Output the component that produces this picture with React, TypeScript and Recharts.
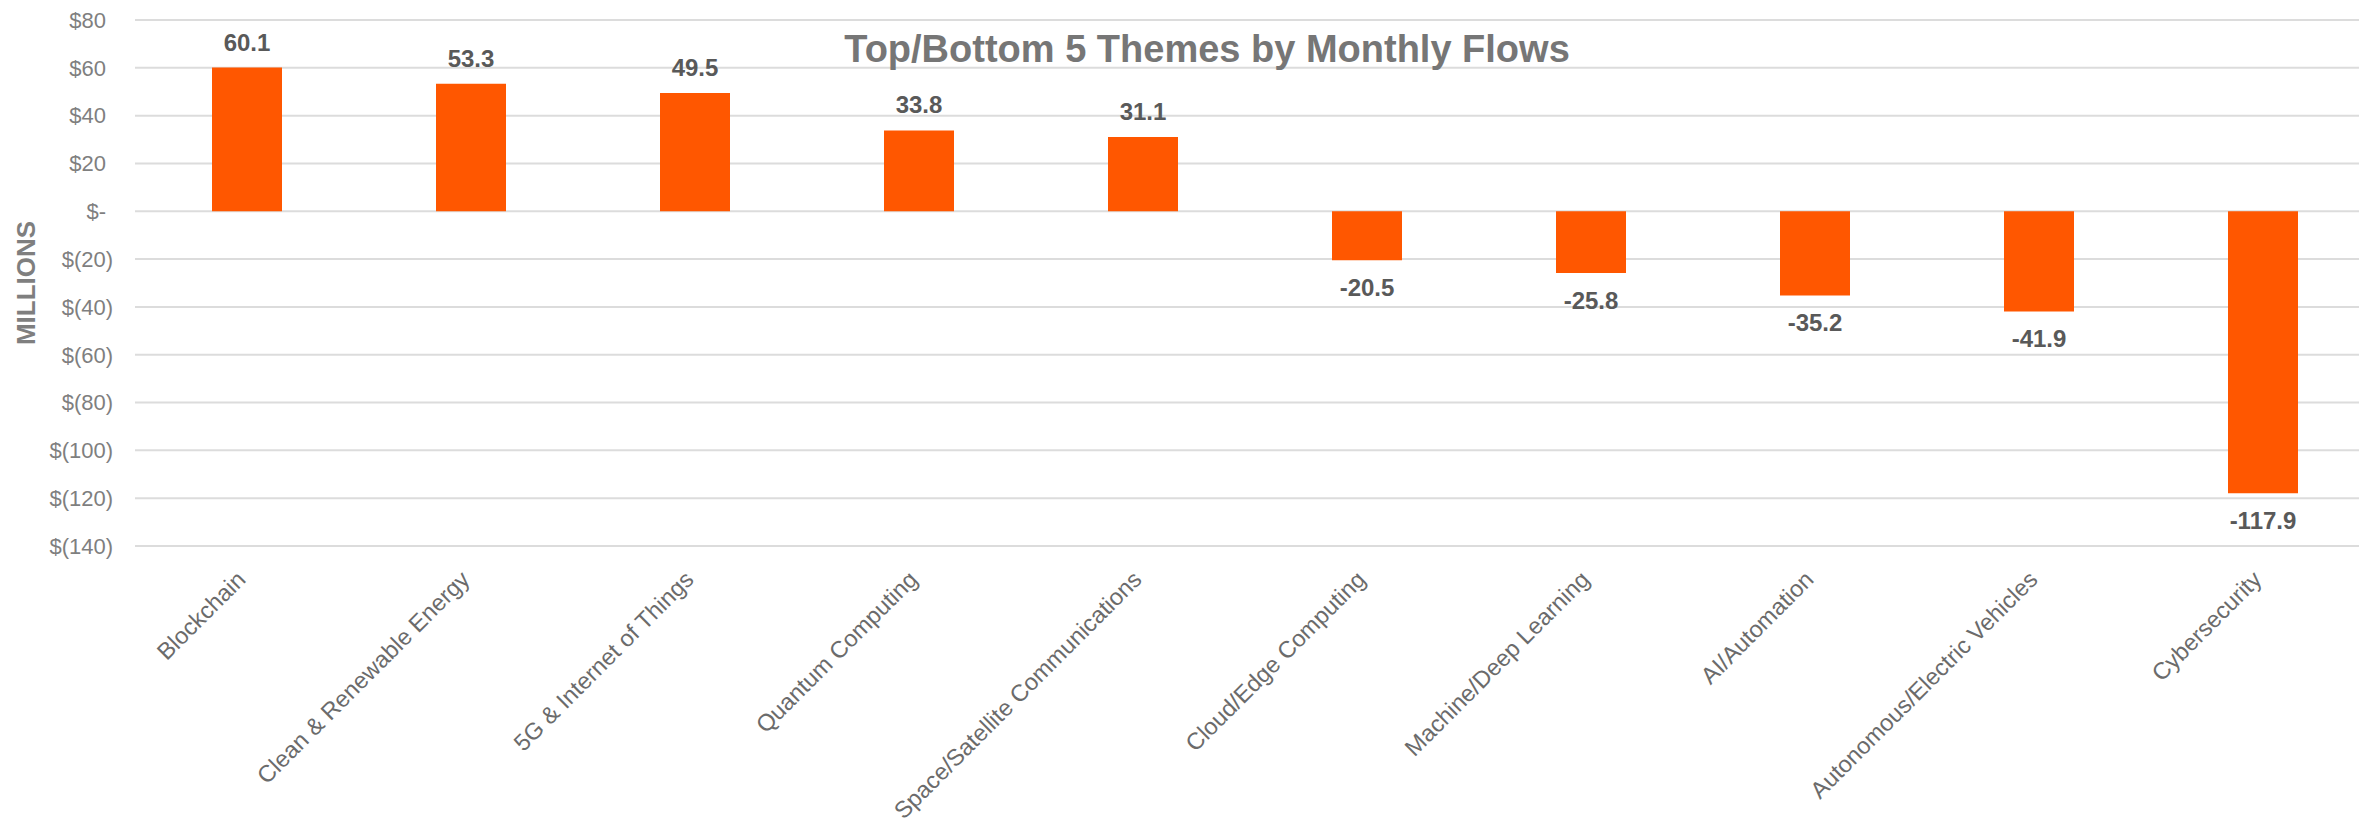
import React from 'react'
import { BarChart, Bar, XAxis, YAxis, CartesianGrid, LabelList } from 'recharts'

const categories = [
  'Blockchain',
  'Clean & Renewable Energy',
  '5G & Internet of Things',
  'Quantum Computing',
  'Space/Satellite Communications',
  'Cloud/Edge Computing',
  'Machine/Deep Learning',
  'AI/Automation',
  'Autonomous/Electric Vehicles',
  'Cybersecurity',
]
const flows = [60.1, 53.3, 49.5, 33.8, 31.1, -20.5, -25.8, -35.2, -41.9, -117.9]
const yTicks = [80, 60, 40, 20, 0, -20, -40, -60, -80, -100, -120, -140]

const FONT = '"Liberation Sans", Arial, sans-serif'
const BAR_COLOR = '#FF5700'

const data = categories.map((name, i) => ({ name, value: flows[i] }))

function fmtMoney(v: number) {
  if (v === 0) return '$-'
  if (v > 0) return `$${v}`
  return `$(${-v})`
}

function YTick(props: any) {
  const { x, y, payload } = props
  const v = payload.value as number
  return (
    <text x={x} y={y} dy="0.355em" dx={v >= 0 ? -7 : 0} textAnchor="end"
      fill="#7f7f7f" fontSize={22} fontFamily={FONT}>
      {fmtMoney(v)}
    </text>
  )
}

function XTick(props: any) {
  const { x, y, payload } = props
  return (
    <text x={x} y={y} textAnchor="end" transform={`rotate(-45, ${x}, ${y})`}
      fill="#6b6b6b" fontSize={23.5} fontFamily={FONT}>
      {payload.value}
    </text>
  )
}

function ValueLabel(props: any) {
  const { x, y, width, height, value } = props
  const top = Math.min(y, y + height)
  const bottom = Math.max(y, y + height)
  const cx = x + width / 2
  const ty = value >= 0 ? top - 17 : bottom + 36
  return (
    <text x={cx} y={ty} textAnchor="middle" fill="#595959"
      fontSize={24} fontWeight="bold" fontFamily={FONT}>
      {value.toFixed(1)}
    </text>
  )
}

export default function App() {
  return (
    <div style={{ position: 'absolute', left: 0, top: 0, width: 2359, height: 821, overflow: 'hidden', background: '#fff' }}>
      <BarChart width={2375} height={821} data={data} margin={{ top: 20, right: 0, bottom: 0, left: 0 }}>
        <CartesianGrid vertical={false} stroke="#dcdcdc" strokeWidth={2} />
        <XAxis dataKey="name" interval={0} height={275} axisLine={false} tickLine={false}
          tickSize={0} tickMargin={35} tick={<XTick />} />
        <YAxis domain={[-140, 80]} ticks={yTicks} width={135} axisLine={false} tickLine={false}
          tickSize={0} tickMargin={22} tick={<YTick />} />
        <Bar dataKey="value" fill={BAR_COLOR} barSize={70} isAnimationActive={false}>
          <LabelList dataKey="value" content={<ValueLabel />} />
        </Bar>
      </BarChart>
      <svg width={2359} height={821} style={{ position: 'absolute', left: 0, top: 0, pointerEvents: 'none' }}>
        <text x={1207} y={62} textAnchor="middle" fill="#767676" fontSize={38}
          fontWeight="bold" fontFamily={FONT}>
          Top/Bottom 5 Themes by Monthly Flows
        </text>
        <text x={0} y={0} transform="translate(35, 283) rotate(-90)" textAnchor="middle"
          fill="#7f7f7f" fontSize={26} fontWeight="bold" fontFamily={FONT}>
          MILLIONS
        </text>
      </svg>
    </div>
  )
}
